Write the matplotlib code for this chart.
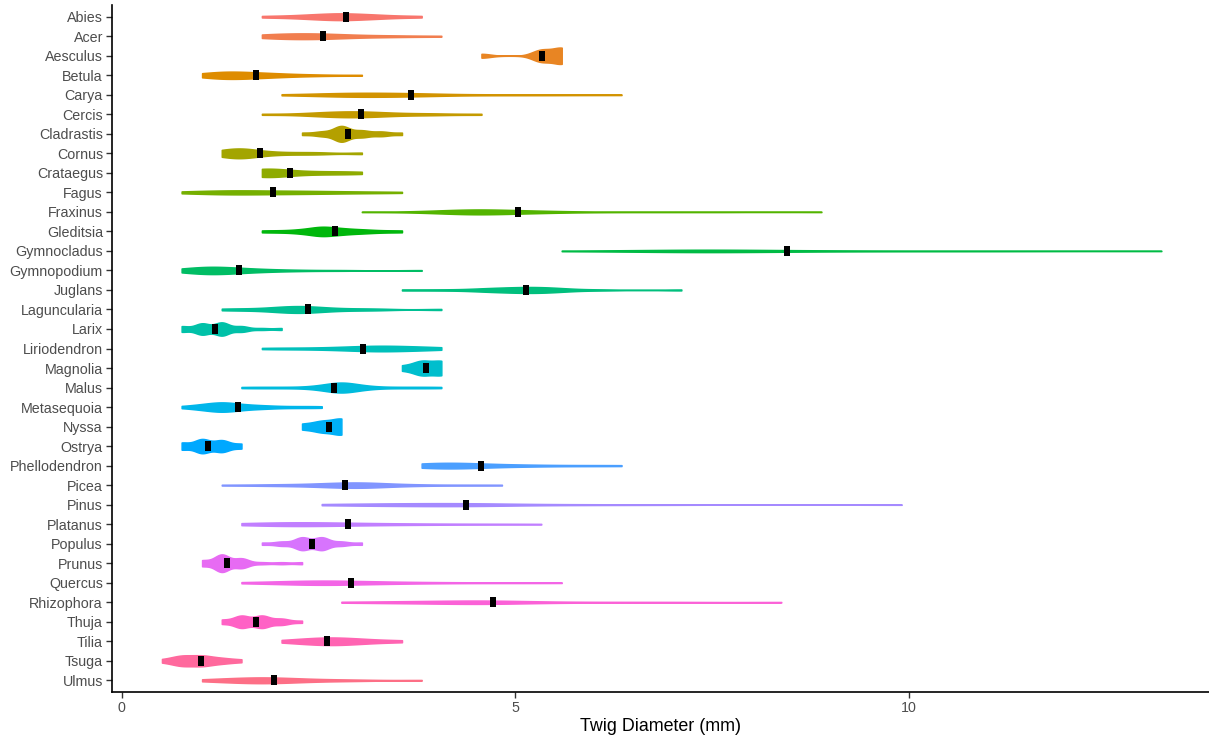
import numpy as np
import matplotlib
matplotlib.use("Agg")
import matplotlib.pyplot as plt

genera = ["Abies", "Acer", "Aesculus", "Betula", "Carya", "Cercis", "Cladrastis",
          "Cornus", "Crataegus", "Fagus", "Fraxinus", "Gleditsia", "Gymnocladus",
          "Gymnopodium", "Juglans", "Laguncularia", "Larix", "Liriodendron",
          "Magnolia", "Malus", "Metasequoia", "Nyssa", "Ostrya", "Phellodendron",
          "Picea", "Pinus", "Platanus", "Populus", "Prunus", "Quercus",
          "Rhizophora", "Thuja", "Tilia", "Tsuga", "Ulmus"]

# observed twig diameters (mm) and how often each was observed
diam_values = [
    [1.78, 2.03, 2.29, 2.54, 2.79, 3.05, 3.30, 3.56, 3.81],
    [1.78, 2.03, 2.29, 2.54, 2.79, 3.05, 3.30, 3.56, 4.06],
    [4.57, 5.33, 5.59],
    [1.02, 1.27, 1.52, 1.78, 2.03, 2.29, 2.54, 3.05],
    [2.03, 2.54, 2.79, 3.05, 3.30, 3.56, 3.81, 4.06, 4.57, 5.08, 5.59, 6.35],
    [1.78, 2.29, 2.54, 2.79, 3.05, 3.30, 3.56, 3.81, 4.06, 4.57],
    [2.29, 2.54, 2.79, 3.05, 3.30, 3.56],
    [1.27, 1.52, 1.78, 2.03, 2.29, 2.54, 3.05],
    [1.78, 2.03, 2.29, 2.54, 2.79, 3.05],
    [0.76, 1.02, 1.27, 1.52, 1.78, 2.03, 2.29, 2.54, 2.79, 3.05, 3.30, 3.56],
    [3.05, 3.81, 4.06, 4.32, 4.57, 4.83, 5.08, 5.33, 5.59, 6.10, 6.86, 7.62, 8.89],
    [1.78, 2.03, 2.29, 2.54, 2.79, 3.05, 3.30, 3.56],
    [5.59, 6.60, 7.11, 7.37, 7.62, 7.87, 8.38, 8.89, 9.65, 10.67, 11.43, 13.21],
    [0.76, 1.02, 1.27, 1.52, 1.78, 2.03, 2.29, 2.79, 3.81],
    [3.56, 4.06, 4.57, 4.83, 5.08, 5.33, 5.59, 6.10, 7.11],
    [1.27, 1.52, 1.78, 2.03, 2.29, 2.54, 2.79, 3.05, 3.30, 4.06],
    [0.76, 1.02, 1.27, 1.52, 1.78, 2.03],
    [1.78, 2.03, 2.29, 2.54, 2.79, 3.05, 3.30, 3.56, 3.81, 4.06],
    [3.56, 3.81, 4.06],
    [1.52, 1.78, 2.03, 2.29, 2.54, 2.79, 3.05, 3.30, 3.56, 3.81, 4.06],
    [0.76, 1.02, 1.27, 1.52, 1.78, 2.03, 2.29, 2.54],
    [2.29, 2.54, 2.79],
    [0.76, 1.02, 1.27, 1.52],
    [3.81, 4.06, 4.32, 4.57, 4.83, 5.08, 5.33, 5.84, 6.35],
    [1.27, 1.78, 2.03, 2.29, 2.54, 2.79, 3.05, 3.30, 3.56, 3.81, 4.32, 4.83],
    [2.54, 2.79, 3.05, 3.30, 3.56, 3.81, 4.06, 4.32, 4.57, 4.83, 5.08, 5.59, 6.10, 6.86, 9.91],
    [1.52, 1.78, 2.03, 2.29, 2.54, 2.79, 3.05, 3.30, 3.56, 3.81, 4.32, 4.83, 5.33],
    [1.78, 2.03, 2.29, 2.54, 2.79, 3.05],
    [1.02, 1.27, 1.52, 1.78, 2.03, 2.29],
    [1.52, 1.78, 2.03, 2.29, 2.54, 2.79, 3.05, 3.30, 3.56, 3.81, 4.06, 4.57, 5.08, 5.59],
    [2.79, 3.30, 3.56, 3.81, 4.06, 4.32, 4.57, 4.83, 5.08, 5.59, 6.35, 7.11, 8.38],
    [1.27, 1.52, 1.78, 2.03, 2.29],
    [2.03, 2.29, 2.54, 2.79, 3.05, 3.30, 3.56],
    [0.51, 0.76, 1.02, 1.27, 1.52],
    [1.02, 1.27, 1.52, 1.78, 2.03, 2.29, 2.54, 2.79, 3.05, 3.81],
]
diam_counts = [
    [1, 1, 2, 3, 4, 3, 2, 1, 1],
    [2, 3, 3, 3, 2, 1, 1, 1, 1],
    [1, 3, 4],
    [2, 5, 4, 3, 2, 1, 1, 1],
    [1, 2, 2, 3, 2, 2, 2, 1, 1, 1, 1, 1],
    [1, 1, 2, 3, 3, 2, 1, 1, 1, 1],
    [1, 2, 7, 3, 2, 1],
    [3, 5, 2, 1, 1, 1, 1],
    [5, 2, 1, 1, 1, 1],
    [1, 2, 3, 3, 2, 2, 2, 2, 1, 1, 1, 1],
    [1, 1, 2, 4, 5, 3, 2, 2, 1, 1, 1, 1, 1],
    [1, 1, 2, 5, 3, 2, 1, 1],
    [1, 1, 2, 2, 2, 1, 1, 1, 1, 1, 1, 1],
    [2, 6, 5, 3, 2, 1, 1, 1, 1],
    [1, 1, 2, 2, 3, 3, 2, 1, 1],
    [1, 1, 1, 3, 4, 2, 1, 1, 1, 1],
    [3, 6, 7, 3, 1, 1],
    [1, 1, 1, 1, 2, 3, 4, 3, 2, 2],
    [1, 3, 3],
    [1, 1, 1, 1, 3, 10, 3, 1, 1, 1, 1],
    [1, 3, 6, 3, 2, 1, 1, 1],
    [1, 2, 3],
    [3, 6, 5, 2],
    [3, 3, 3, 2, 1, 1, 1, 1, 1],
    [1, 1, 1, 1, 2, 3, 4, 2, 1, 1, 1, 1],
    [1, 1, 1, 2, 1, 2, 2, 2, 2, 1, 1, 1, 1, 1, 1],
    [1, 2, 3, 3, 2, 2, 1, 1, 1, 1, 1, 1, 1],
    [1, 2, 6, 6, 2, 1],
    [3, 9, 5, 1, 1, 1],
    [1, 1, 2, 3, 4, 3, 2, 2, 1, 1, 1, 1, 1, 1],
    [1, 1, 1, 1, 1, 2, 2, 2, 1, 1, 1, 1, 1],
    [2, 6, 6, 3, 1],
    [1, 2, 3, 3, 2, 1, 1],
    [1, 4, 4, 2, 1],
    [1, 2, 3, 4, 3, 2, 1, 1, 1, 1],
]
# summary marker (mm) per genus
marker_values = [2.85, 2.56, 5.34, 1.71, 3.67, 3.04, 2.88, 1.75, 2.14, 1.92,
                 5.03, 2.71, 8.45, 1.49, 5.14, 2.36, 1.19, 3.07, 3.86, 2.69,
                 1.48, 2.63, 1.09, 4.57, 2.83, 4.37, 2.87, 2.42, 1.34, 2.91,
                 4.72, 1.71, 2.61, 1.00, 1.93]

x_ticks = [0, 5, 10]
x_label = "Twig Diameter (mm)"


def hue_pal(n, l=65.0, c=100.0):
    h = np.deg2rad(np.linspace(15, 375, n + 1)[:-1])
    Xn, Yn, Zn = 95.047, 100.0, 108.883
    den = Xn + 15 * Yn + 3 * Zn
    un, vn = 4 * Xn / den, 9 * Yn / den
    Y = np.full_like(h, Yn * ((l + 16) / 116) ** 3)
    up = c * np.cos(h) / (13 * l) + un
    vp = c * np.sin(h) / (13 * l) + vn
    X = 9 * Y * up / (4 * vp)
    Z = -X / 3 - 5 * Y + 3 * Y / vp
    M = np.array([[3.240479, -1.537150, -0.498535],
                  [-0.969256, 1.875992, 0.041556],
                  [0.055648, -0.204043, 1.057311]])
    rgb = M @ (np.vstack([X, Y, Z]) / 100)
    rgb = np.where(rgb <= 0.0031308, 12.92 * rgb, 1.055 * np.abs(rgb) ** (1 / 2.4) - 0.055)
    return np.clip(rgb.T, 0, 1)


def bw_nrd0(x):
    hi = np.std(x, ddof=1)
    q75, q25 = np.percentile(x, [75, 25])
    lo = min(hi, (q75 - q25) / 1.34)
    if lo <= 0:
        lo = hi if hi > 0 else 1.0
    return 0.9 * lo * len(x) ** (-0.2)


def kde(x, grid):
    bw = bw_nrd0(x)
    z = (grid[:, None] - x[None, :]) / bw
    return np.exp(-0.5 * z ** 2).sum(axis=1) / (len(x) * bw * np.sqrt(2 * np.pi))


colors = hue_pal(len(genera))

dens = []
for vals, cnts in zip(diam_values, diam_counts):
    s = np.repeat(np.array(vals), cnts)
    g = np.linspace(s.min(), s.max(), 512)
    dens.append((g, kde(s, g)))
dmax = max(d.max() for _, d in dens)

fig = plt.figure(figsize=(12.09, 7.40), dpi=100)
ax = fig.add_axes([112 / 1209, 1 - 692 / 740, 1 - 112 / 1209, (692 - 5) / 740])

n = len(genera)
ypos = np.arange(n)[::-1]
for i, (g, d) in enumerate(dens):
    hw = 0.45 * d / dmax
    ax.fill_between(g, ypos[i] - hw, ypos[i] + hw, facecolor=colors[i],
                    edgecolor=colors[i], linewidth=1.1, zorder=2)

rect = [(-0.25, -0.5), (0.25, -0.5), (0.25, 0.5), (-0.25, 0.5), (-0.25, -0.5)]
ax.plot(marker_values, ypos, linestyle="none", marker=rect, markersize=7.4,
        markerfacecolor="black", markeredgewidth=0, zorder=3)

ax.set_xlim(-0.125, (1209 - 121.7) / 78.7)
ax.set_ylim(-0.6, n - 1 + 0.6)
ax.set_yticks(ypos)
ax.set_yticklabels(genera)
ax.set_xticks(x_ticks)
ax.set_xticklabels([str(t) for t in x_ticks])
ax.set_xlabel(x_label, fontsize=12.9, color="black", fontfamily="Liberation Sans", labelpad=2)

for lab in ax.get_yticklabels() + ax.get_xticklabels():
    lab.set_fontfamily("Liberation Sans")
    lab.set_fontsize(10.3)
    lab.set_color("#4D4D4D")
ax.tick_params(axis="both", color="#333333", length=4, width=1.0, pad=2.5)

for side in ["top", "right"]:
    ax.spines[side].set_visible(False)
for side in ["left", "bottom"]:
    ax.spines[side].set_linewidth(1.2)
    ax.spines[side].set_color("black")

fig.savefig("out.png", dpi=100)
